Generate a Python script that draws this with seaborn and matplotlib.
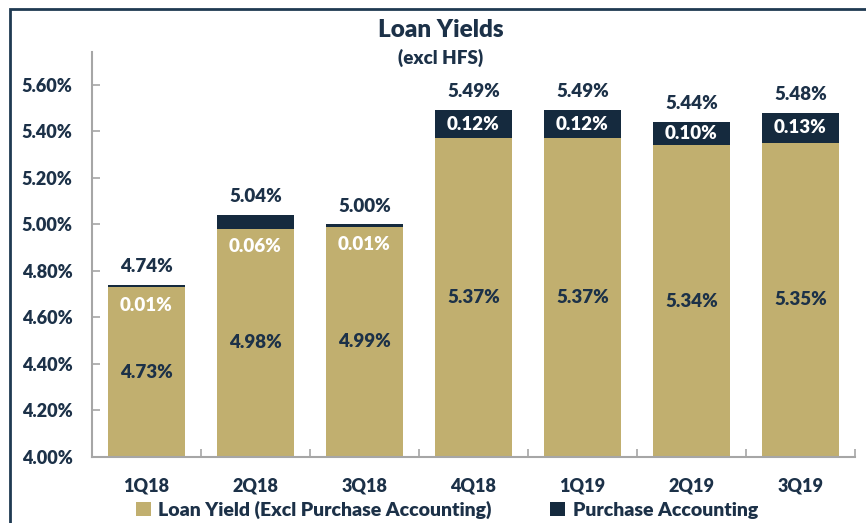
import numpy as np
import pandas as pd
import seaborn as sns
import matplotlib
matplotlib.use("Agg")
import matplotlib.pyplot as plt
from matplotlib.patches import Patch, Rectangle

# ---- data ----
quarters = ["1Q18", "2Q18", "3Q18", "4Q18", "1Q19", "2Q19", "3Q19"]
loan_yield = [4.73, 4.98, 4.99, 5.37, 5.37, 5.34, 5.35]
purchase_acct = [0.01, 0.06, 0.01, 0.12, 0.12, 0.10, 0.13]
total_yield = [4.74, 5.04, 5.00, 5.49, 5.49, 5.44, 5.48]
y_ticks = [4.00, 4.20, 4.40, 4.60, 4.80, 5.00, 5.20, 5.40, 5.60]

TAN = "#C1AF6F"
NAVY = "#152A3E"
TEXT = "#1C3148"
GRAY = "#A6A6A6"
W = "heavy"

sns.set_theme(style="white")
plt.rcParams["font.family"] = ["Lato", "DejaVu Sans"]
plt.rcParams["font.weight"] = "bold"

df = pd.DataFrame({"quarter": quarters, "base": loan_yield,
                   "pa": purchase_acct, "total": total_yield})

fig = plt.figure(figsize=(8.66, 5.23), dpi=100)
ax = fig.add_axes([92 / 866, 1 - 457 / 523, 763 / 866, (457 - 52) / 523])

sns.barplot(data=df, x="quarter", y="total", color=NAVY, saturation=1,
            width=0.7, ax=ax, linewidth=0)
sns.barplot(data=df, x="quarter", y="base", color=TAN, saturation=1,
            width=0.7, ax=ax, linewidth=0)

ax.set_ylim(4.0, 5.74)
ax.set_xlim(-0.5, len(quarters) - 0.5)
ax.set_xlabel("")
ax.set_ylabel("")
ax.set_yticks(y_ticks)
ax.set_yticklabels([f"{v:.2f}%" for v in y_ticks], fontsize=13,
                   fontweight=W, color=TEXT)
ax.set_xticks(range(len(quarters)))
ax.set_xticklabels(quarters, fontsize=13, fontweight=W, color=TEXT)
ax.set_xticks(np.arange(-0.5, len(quarters), 1.0), minor=True)
ax.tick_params(axis="x", which="major", length=0, pad=15)
ax.tick_params(axis="x", which="minor", length=6, direction="in",
               color=GRAY, width=1.2, bottom=True)
ax.tick_params(axis="y", which="major", length=6, direction="in",
               color=GRAY, width=1.2, pad=14, left=True)
for s in ["top", "right"]:
    ax.spines[s].set_visible(False)
for s in ["left", "bottom"]:
    ax.spines[s].set_color(GRAY)
    ax.spines[s].set_linewidth(1.5)
ax.grid(False)

# ---- data labels ----
LS = 13.5
for i, (b, p, t) in enumerate(zip(loan_yield, purchase_acct, total_yield)):
    ax.text(i, (4.0 + b) / 2, f"{b:.2f}%", ha="center", va="center",
            fontsize=LS, fontweight=W, color=TEXT)
    if p < 0.08:
        ax.annotate(f"{p:.2f}%", (i, b), xytext=(0, -13),
                    textcoords="offset points", ha="center", va="center",
                    fontsize=LS, fontweight=W, color="white")
    else:
        ax.text(i, b + p / 2, f"{p:.2f}%", ha="center", va="center",
                fontsize=LS, fontweight=W, color="white")
    ax.annotate(f"{t:.2f}%", (i, t), xytext=(0, 7),
                textcoords="offset points", ha="center", va="bottom",
                fontsize=LS, fontweight=W, color=TEXT)

# ---- titles ----
fig.text(441 / 866, 1 - 30 / 523, "Loan Yields", ha="center", va="center",
         fontsize=17.5, fontweight=W, color=TEXT)
fig.text(441 / 866, 1 - 58 / 523, "(excl HFS)", ha="center", va="center",
         fontsize=13.5, fontweight=W, color=TEXT)

# ---- legend ----
handles = [Patch(facecolor=TAN, edgecolor="none",
                 label="Loan Yield (Excl Purchase Accounting)"),
           Patch(facecolor=NAVY, edgecolor="none", label="Purchase Accounting")]
fig.legend(handles=handles, loc="center", bbox_to_anchor=(447 / 866, 1 - 510 / 523),
           ncol=2, frameon=False, prop={"size": 14, "weight": W},
           handlelength=0.75, handleheight=0.75, handletextpad=0.4,
           columnspacing=3.0, labelcolor=TEXT, borderpad=0.1)

# ---- outer frame ----
fig.add_artist(Rectangle((9.5 / 866, -0.2), 1.2, 1.2 - 8.5 / 523,
                         transform=fig.transFigure, fill=False,
                         edgecolor="#1F3A52", linewidth=2, clip_on=False))

fig.savefig("out.png", dpi=100)
